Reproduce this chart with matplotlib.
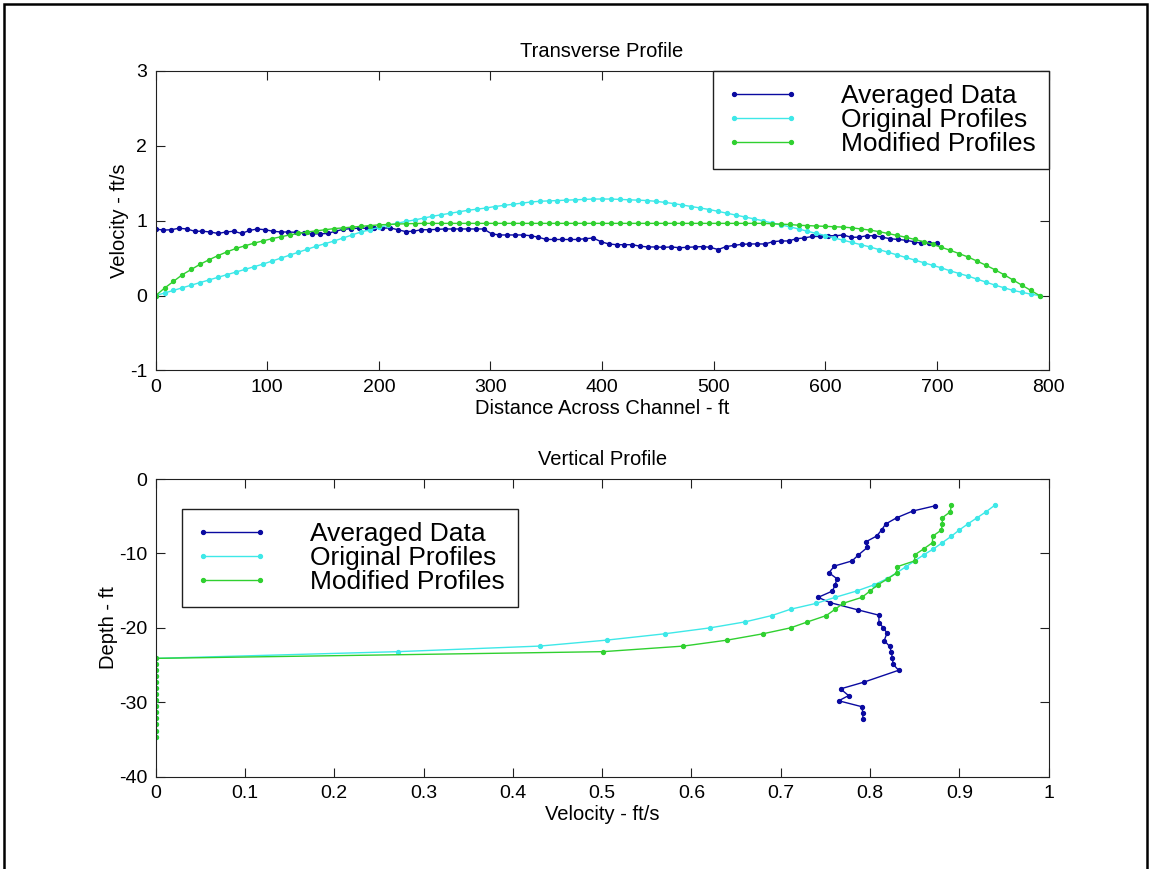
import numpy as np
import matplotlib
matplotlib.use("Agg")
import matplotlib.pyplot as plt
from matplotlib.patches import Rectangle
from matplotlib.ticker import FormatStrFormatter, MultipleLocator

plt.rcParams["font.family"] = ["Liberation Sans", "DejaVu Sans"]
plt.rcParams["axes.unicode_minus"] = False

# ---- Transverse profile data ----
# survey stations across the channel (ft)
avg_dist = np.arange(0, 701, 7)
prof_dist = np.arange(0, 793, 8)

avg_vel = [
    0.89, 0.875, 0.88, 0.90, 0.89, 0.86, 0.86, 0.85, 0.83, 0.85,
    0.86, 0.83, 0.87, 0.89, 0.88, 0.86, 0.85, 0.85, 0.845, 0.835,
    0.825, 0.825, 0.83, 0.86, 0.885, 0.895, 0.90, 0.90, 0.90, 0.90,
    0.905, 0.88, 0.855, 0.86, 0.88, 0.88, 0.885, 0.89, 0.89, 0.89,
    0.89, 0.89, 0.89, 0.825, 0.81, 0.81, 0.81, 0.81, 0.80, 0.78,
    0.75, 0.75, 0.75, 0.75, 0.75, 0.76, 0.77, 0.72, 0.69, 0.68,
    0.68, 0.68, 0.66, 0.65, 0.65, 0.645, 0.65, 0.64, 0.645, 0.65,
    0.655, 0.645, 0.615, 0.655, 0.67, 0.685, 0.69, 0.69, 0.69, 0.72,
    0.73, 0.73, 0.76, 0.77, 0.79, 0.79, 0.80, 0.80, 0.81, 0.78,
    0.78, 0.80, 0.80, 0.78, 0.76, 0.75, 0.74, 0.72, 0.70, 0.70,
    0.70,
]

orig_vel = [
    0.000, 0.035, 0.070, 0.105, 0.140, 0.175, 0.210, 0.245, 0.280, 0.315,
    0.350, 0.385, 0.420, 0.460, 0.500, 0.540, 0.580, 0.620, 0.660, 0.695,
    0.730, 0.770, 0.810, 0.850, 0.880, 0.910, 0.940, 0.965, 0.990, 1.010,
    1.035, 1.060, 1.080, 1.100, 1.120, 1.140, 1.155, 1.170, 1.190, 1.205,
    1.220, 1.235, 1.250, 1.260, 1.265, 1.270, 1.275, 1.280, 1.285, 1.290,
    1.290, 1.290, 1.285, 1.280, 1.275, 1.270, 1.260, 1.245, 1.230, 1.210,
    1.190, 1.170, 1.150, 1.125, 1.100, 1.075, 1.050, 1.025, 1.000, 0.970,
    0.945, 0.920, 0.890, 0.860, 0.830, 0.800, 0.770, 0.740, 0.710, 0.680,
    0.650, 0.615, 0.580, 0.545, 0.510, 0.475, 0.440, 0.405, 0.370, 0.330,
    0.295, 0.260, 0.220, 0.180, 0.140, 0.105, 0.070, 0.045, 0.020, 0.000,
]

mod_vel = [
    0.000, 0.100, 0.190, 0.280, 0.350, 0.420, 0.480, 0.535, 0.585, 0.630,
    0.665, 0.700, 0.730, 0.760, 0.785, 0.810, 0.830, 0.850, 0.865, 0.880,
    0.895, 0.905, 0.915, 0.925, 0.935, 0.945, 0.950, 0.955, 0.960, 0.963,
    0.965, 0.965, 0.965, 0.965, 0.965, 0.965, 0.965, 0.965, 0.965, 0.965,
    0.965, 0.965, 0.965, 0.965, 0.965, 0.965, 0.965, 0.965, 0.965, 0.965,
    0.965, 0.965, 0.965, 0.965, 0.965, 0.965, 0.965, 0.965, 0.965, 0.965,
    0.965, 0.965, 0.965, 0.965, 0.965, 0.965, 0.965, 0.965, 0.965, 0.960,
    0.955, 0.950, 0.940, 0.935, 0.930, 0.925, 0.920, 0.915, 0.905, 0.890,
    0.875, 0.855, 0.830, 0.805, 0.780, 0.750, 0.720, 0.685, 0.645, 0.605,
    0.560, 0.515, 0.460, 0.405, 0.345, 0.280, 0.210, 0.140, 0.070, 0.000,
]

# ---- Vertical profile data ----
avg_depth = [
    -3.6, -4.3, -5.2, -6.05, -6.85, -7.66, -8.4, -9.2, -10.2, -11.0,
    -11.7, -12.6, -13.4, -14.2, -15.05, -15.9, -16.6, -17.6, -18.3, -19.3,
    -20.0, -20.7, -21.7, -22.5, -23.3, -24.1, -24.9, -25.7, -27.3, -28.2,
    -29.1, -29.8, -30.6, -31.5, -32.3,
]
avg_vvel = [
    0.873, 0.848, 0.830, 0.8175, 0.813, 0.8075, 0.796, 0.797, 0.787, 0.780,
    0.760, 0.754, 0.763, 0.761, 0.758, 0.742, 0.755, 0.787, 0.810, 0.810,
    0.815, 0.819, 0.816, 0.822, 0.824, 0.825, 0.826, 0.832, 0.793, 0.767,
    0.776, 0.765, 0.791, 0.792, 0.792,
]

prof_depth = [
    -3.5, -4.4, -5.2, -6.0, -6.85, -7.7, -8.55, -9.4, -10.2, -11.0,
    -11.8, -12.6, -13.4, -14.2, -15.05, -15.9, -16.7, -17.5, -18.35, -19.2,
    -20.0, -20.8, -21.65, -22.45, -23.2, -24.1, -24.9, -25.7, -26.5, -27.3,
    -28.1, -28.9, -29.7, -30.5, -31.3, -32.1, -32.9, -33.8, -34.6,
]
orig_vvel = [
    0.940, 0.930, 0.920, 0.910, 0.900, 0.891, 0.881, 0.871, 0.860, 0.850,
    0.840, 0.830, 0.819, 0.805, 0.785, 0.761, 0.740, 0.711, 0.690, 0.660,
    0.621, 0.570, 0.505, 0.430, 0.271, 0.0, 0.0, 0.0, 0.0, 0.0,
    0.0, 0.0, 0.0, 0.0, 0.0, 0.0, 0.0, 0.0, 0.0,
]
mod_vvel = [
    0.891, 0.890, 0.881, 0.881, 0.880, 0.870, 0.870, 0.860, 0.850, 0.850,
    0.830, 0.830, 0.820, 0.809, 0.800, 0.791, 0.770, 0.761, 0.751, 0.730,
    0.711, 0.680, 0.640, 0.591, 0.501, 0.0, 0.0, 0.0, 0.0, 0.0,
    0.0, 0.0, 0.0, 0.0, 0.0, 0.0, 0.0, 0.0, 0.0,
]

labels = ["Averaged Data", "Original Profiles", "Modified Profiles"]
colors = ["#0a0aa0", "#3ee8e8", "#30d030"]

W, H = 1152, 869
fig = plt.figure(figsize=(W / 100, H / 100), dpi=100)

# border around the whole figure
fig.add_artist(Rectangle((4 / W, -0.01), 1143 / W, 1 - 4 / H + 0.01,
                         transform=fig.transFigure, fill=False,
                         edgecolor="black", linewidth=1.8))


def style_axes(ax):
    for s in ax.spines.values():
        s.set_linewidth(0.8)
        s.set_color("#202020")
    ax.tick_params(direction="in", length=6.5, width=0.8, top=True,
                   right=True, labelsize=14, pad=6, colors="#202020",
                   labelcolor="black")


def add_legend(ax, handles, x, y):
    leg = ax.legend(handles, labels, loc="upper left",
                    bbox_to_anchor=(x / W, 1 - y / H),
                    bbox_transform=fig.transFigure, borderaxespad=0,
                    fontsize=19, handlelength=2.75, handletextpad=1.6,
                    labelspacing=0.0, borderpad=0.5, numpoints=2,
                    fancybox=False, framealpha=1)
    leg.get_frame().set_edgecolor("#202020")
    leg.get_frame().set_linewidth(1.0)


line_kw = dict(marker="o", markersize=2.8, linewidth=1.0)

# ---- top: transverse profile ----
ax1 = fig.add_axes([155.6 / W, 1 - 370.5 / H, 893 / W, 299.5 / H])
h1 = ax1.plot(avg_dist, avg_vel, color=colors[0], **line_kw)
h2 = ax1.plot(prof_dist, orig_vel, color=colors[1], **line_kw)
h3 = ax1.plot(prof_dist, mod_vel, color=colors[2], **line_kw)
ax1.set_xlim(0, 800)
ax1.set_ylim(-1, 3)
ax1.xaxis.set_major_locator(MultipleLocator(100))
ax1.yaxis.set_major_locator(MultipleLocator(1))
ax1.set_title("Transverse Profile", fontsize=14.5, pad=10)
ax1.set_xlabel("Distance Across Channel - ft", fontsize=14.5, labelpad=2)
ax1.set_ylabel("Velocity - ft/s", fontsize=14.5, labelpad=1)
style_axes(ax1)
add_legend(ax1, [h1[0], h2[0], h3[0]], 713, 71)

# ---- bottom: vertical profile ----
ax2 = fig.add_axes([155.6 / W, 1 - 776.7 / H, 893 / W, 297.7 / H])
g1 = ax2.plot(avg_vvel, avg_depth, color=colors[0], **line_kw)
g2 = ax2.plot(orig_vvel, prof_depth, color=colors[1], **line_kw)
g3 = ax2.plot(mod_vvel, prof_depth, color=colors[2], **line_kw)
ax2.set_xlim(0, 1)
ax2.set_ylim(-40, 0)
ax2.xaxis.set_major_locator(MultipleLocator(0.1))
ax2.yaxis.set_major_locator(MultipleLocator(10))
ax2.xaxis.set_major_formatter(FormatStrFormatter("%g"))
ax2.set_title("Vertical Profile", fontsize=14.5, pad=10)
ax2.set_xlabel("Velocity - ft/s", fontsize=14.5, labelpad=2)
ax2.set_ylabel("Depth - ft", fontsize=14.5, labelpad=1)
style_axes(ax2)
add_legend(ax2, [g1[0], g2[0], g3[0]], 182, 509)

fig.savefig("out.png", dpi=100)
